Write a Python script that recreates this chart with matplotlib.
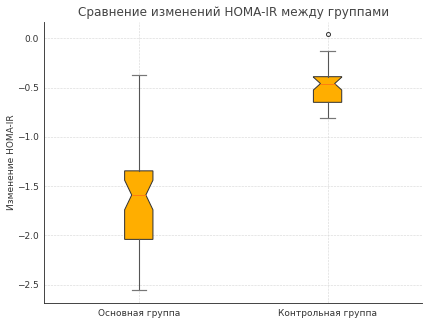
import numpy as np
import matplotlib
matplotlib.use('Agg')
import matplotlib.pyplot as plt

# summary values (change of HOMA-IR)
groups = ['Основная группа', 'Контрольная группа']
medians = [-1.59, -0.46]
q1 = [-2.04, -0.65]
q3 = [-1.345, -0.39]
whislo = [-2.555, -0.81]
whishi = [-0.37, -0.125]
ci_lo = [-1.74, -0.525]
ci_hi = [-1.44, -0.395]
fliers = [[], [0.04]]

stats = []
for i, name in enumerate(groups):
    stats.append(dict(label=name, med=medians[i], q1=q1[i], q3=q3[i],
                      whislo=whislo[i], whishi=whishi[i],
                      cilo=ci_lo[i], cihi=ci_hi[i], fliers=fliers[i]))

txt = '#333333'
plt.rcParams['font.family'] = ['DejaVu Sans']
plt.rcParams['text.color'] = txt
plt.rcParams['axes.labelcolor'] = txt
plt.rcParams['xtick.color'] = txt
plt.rcParams['ytick.color'] = txt

fig, ax = plt.subplots(figsize=(431 / 72, 323 / 72), dpi=72)
fig.subplots_adjust(left=0.103, right=0.979, top=0.932, bottom=0.062)

bp = ax.bxp(stats, shownotches=True, patch_artist=True, widths=0.15,
            boxprops=dict(facecolor='#FFAE00', edgecolor='#333333', linewidth=1.0),
            whiskerprops=dict(color='#555555', linewidth=1.1),
            capprops=dict(color='#777777', linewidth=1.2),
            medianprops=dict(color='#ff7f0e', linewidth=1.0),
            flierprops=dict(marker='o', markersize=4, markerfacecolor='none',
                            markeredgecolor='#333333'))

ax.set_xlim(0.5, 2.5)
ax.set_ylim(-2.685, 0.165)
ax.set_yticks([0.0, -0.5, -1.0, -1.5, -2.0, -2.5])
ax.set_title('Сравнение изменений HOMA-IR между группами', fontsize=12, color='#444444')
ax.set_ylabel('Изменение HOMA-IR', fontsize=9, labelpad=1)
ax.tick_params(axis='both', length=0, labelsize=9, pad=6)
ax.grid(True, linestyle='--', linewidth=0.6, color='#d8d8d8')
ax.set_axisbelow(True)
for s in ['top', 'right']:
    ax.spines[s].set_visible(False)
for s in ['left', 'bottom']:
    ax.spines[s].set_color('#333333')
    ax.spines[s].set_linewidth(0.9)

fig.savefig('out.png', dpi=72)
